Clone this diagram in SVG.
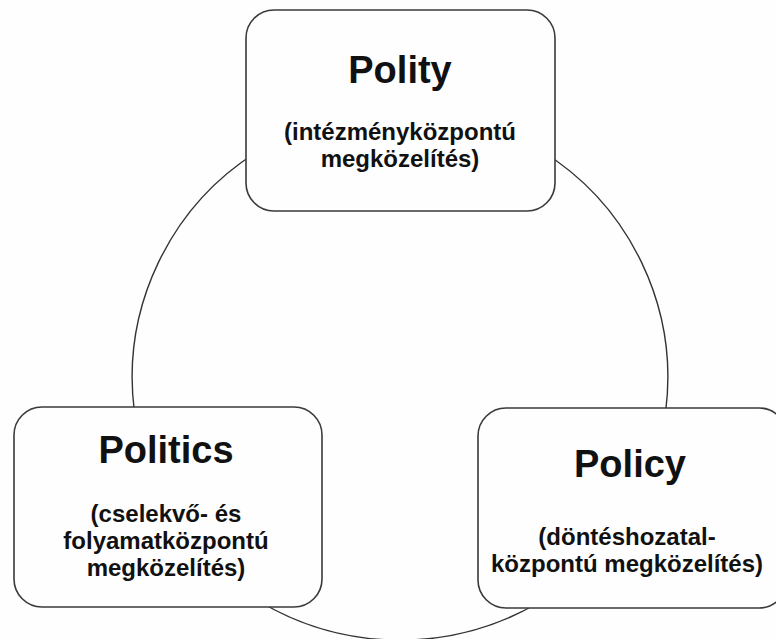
<svg xmlns="http://www.w3.org/2000/svg" width="776" height="639" viewBox="0 0 776 639">
<style>
.bg{fill:#fefefe}
.arc{fill:none;stroke:#333;stroke-width:1.4}
.box{fill:#fefefe;stroke:#3a3a3a;stroke-width:1.6}
.title{font-family:"Liberation Sans",Arial,sans-serif;font-weight:bold;font-size:38px;fill:#111;text-anchor:middle}
.sub{font-family:"Liberation Sans",Arial,sans-serif;font-weight:bold;font-size:24px;fill:#111;text-anchor:middle}
</style>
<rect class="bg" x="0" y="0" width="776" height="639"/>
<g id="connectors">
<path class="arc" d="M260,150 A267,267 0 0,0 134.4,412"/>
<path class="arc" d="M540,150 A267,267 0 0,1 665.6,412"/>
<path class="arc" d="M262,603 A275,275 0 0,0 538,603"/>
</g>
<g id="polity">
<rect class="box" x="246" y="10" width="309" height="201" rx="28" ry="28"/>
<text class="title" x="400" y="83">Polity</text>
<text class="sub" x="400" y="140">(intézményközpontú</text>
<text class="sub" x="400" y="167">megközelítés)</text>
</g>
<g id="politics">
<rect class="box" x="14" y="407" width="308" height="200" rx="28" ry="28"/>
<text class="title" x="166" y="463">Politics</text>
<text class="sub" x="166" y="522">(cselekvő- és</text>
<text class="sub" x="166" y="549">folyamatközpontú</text>
<text class="sub" x="166" y="576">megközelítés)</text>
</g>
<g id="policy">
<rect class="box" x="478" y="408" width="309" height="200" rx="28" ry="28"/>
<text class="title" x="630" y="477">Policy</text>
<text class="sub" x="627" y="545">(döntéshozatal-</text>
<text class="sub" x="627" y="572">központú megközelítés)</text>
</g>
</svg>
